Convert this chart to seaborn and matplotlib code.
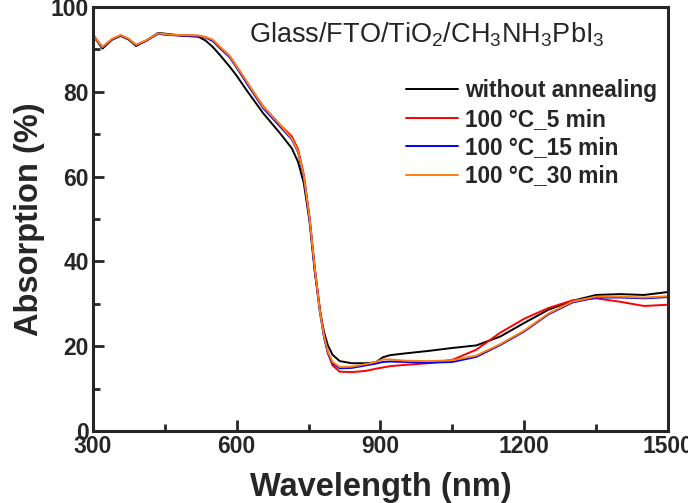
import matplotlib
matplotlib.use("Agg")
import matplotlib.pyplot as plt
import numpy as np
import pandas as pd
import seaborn as sns
from matplotlib.ticker import MultipleLocator

# wavelength grid (nm) shared by all spectra
wavelength = [300, 320, 340, 358, 375, 390, 410, 436, 460, 488, 520, 535, 550, 565, 585,
              600, 620, 655, 690, 715, 728, 740, 752, 763, 774, 782, 790, 800, 815, 840,
              870, 890, 905, 920, 950, 1000, 1050, 1100, 1150, 1200, 1250, 1300, 1350,
              1400, 1450, 1500]

no_anneal = [93.4, 90.2, 92.3, 93.2, 92.3, 90.8, 92.0, 93.9, 93.6, 93.2, 93.0, 92.1, 90.6,
             88.7, 86.0, 83.8, 80.5, 75.0, 70.3, 66.7, 63.5, 58.5, 49.5, 37.5, 28.2, 23.5,
             20.3, 18.0, 16.5, 16.0, 16.0, 16.2, 17.4, 17.9, 18.3, 18.9, 19.6, 20.2, 22.3,
             25.5, 28.6, 30.7, 32.1, 32.3, 32.1, 32.8]
min5 = [93.4, 90.5, 92.4, 93.3, 92.4, 91.0, 92.0, 93.7, 93.4, 93.3, 93.2, 92.9, 92.2,
        90.6, 88.5, 86.0, 82.5, 76.6, 72.3, 69.5, 66.5, 60.5, 50.5, 38.5, 28.5, 22.5,
        18.5, 15.5, 14.0, 13.9, 14.2, 14.7, 15.0, 15.3, 15.6, 16.0, 16.8, 19.2, 23.2,
        26.5, 29.0, 30.8, 31.3, 30.5, 29.5, 29.8]
min15 = [93.4, 90.5, 92.4, 93.3, 92.4, 91.0, 92.0, 93.7, 93.4, 93.3, 93.2, 92.8, 92.0,
         90.3, 88.2, 85.7, 82.2, 76.2, 71.9, 68.8, 65.8, 60.0, 50.0, 38.0, 27.8, 22.3,
         18.5, 16.0, 14.8, 14.9, 15.5, 15.9, 16.3, 16.4, 16.3, 16.1, 16.3, 17.5, 20.3,
         23.5, 27.5, 30.3, 31.5, 31.5, 31.3, 31.6]
min30 = [93.4, 90.6, 92.5, 93.4, 92.5, 91.1, 92.1, 93.8, 93.5, 93.4, 93.3, 92.9, 92.3,
         90.6, 88.5, 86.0, 82.6, 76.5, 72.3, 69.0, 66.0, 60.3, 50.3, 38.3, 28.0, 22.6,
         18.8, 16.3, 15.1, 15.2, 15.8, 16.3, 16.9, 16.9, 16.6, 16.5, 16.7, 17.8, 20.5,
         23.7, 27.7, 30.5, 31.7, 31.7, 31.5, 31.8]

labels = ["without annealing", "100 \u00b0C_5 min", "100 \u00b0C_15 min", "100 \u00b0C_30 min"]
colors = ["black", "#ff0000", "#0000ff", "#ff7f0e"]

frames = []
for lab, vals in zip(labels, [no_anneal, min5, min15, min30]):
    frames.append(pd.DataFrame({"wl": wavelength, "abs": vals, "sample": lab}))
df = pd.concat(frames, ignore_index=True)

sns.set_style("ticks")
plt.rcParams["font.family"] = ["Liberation Sans", "DejaVu Sans"]
plt.rcParams["mathtext.fontset"] = "custom"
plt.rcParams["mathtext.rm"] = "Liberation Sans"
plt.rcParams["mathtext.it"] = "Liberation Sans"

fig = plt.figure(figsize=(6.88, 5.03), dpi=100)
ax = fig.add_axes([0.135, 0.143, 0.836, 0.843])

sns.lineplot(data=df, x="wl", y="abs", hue="sample", palette=dict(zip(labels, colors)),
             sort=False, linewidth=1.4, ax=ax)

ax.set_xlim(300, 1500)
ax.set_ylim(0, 100)
ax.xaxis.set_major_locator(MultipleLocator(300))
ax.xaxis.set_minor_locator(MultipleLocator(150))
ax.yaxis.set_major_locator(MultipleLocator(20))
ax.yaxis.set_minor_locator(MultipleLocator(10))
ax.tick_params(which="both", direction="in", width=2, top=False, right=False)
ax.tick_params(which="major", length=8, labelsize=16.5, pad=3)
ax.tick_params(which="minor", length=5)
for lbl in ax.get_xticklabels() + ax.get_yticklabels():
    lbl.set_fontweight("bold")
for sp in ax.spines.values():
    sp.set_linewidth(2.2)
    sp.set_visible(True)

ax.set_xlabel("Wavelength (nm)", fontsize=23.5, fontweight="bold", labelpad=10)
ax.set_ylabel("Absorption (%)", fontsize=23.5, fontweight="bold", labelpad=4)

ax.text(0.58, 0.934, "Glass/FTO/TiO$_2$/CH$_3$NH$_3$PbI$_3$", transform=ax.transAxes,
        ha="center", va="center", fontsize=19.5)

leg = ax.legend(loc="upper left", bbox_to_anchor=(0.545, 0.83), frameon=False,
                fontsize=16.3, handlelength=2.3, handletextpad=0.3,
                labelspacing=0.24, borderaxespad=0, borderpad=0)
for t in leg.get_texts():
    t.set_fontweight("bold")
for h in leg.get_lines():
    h.set_linewidth(1.4)

fig.savefig("out.png", dpi=100)
